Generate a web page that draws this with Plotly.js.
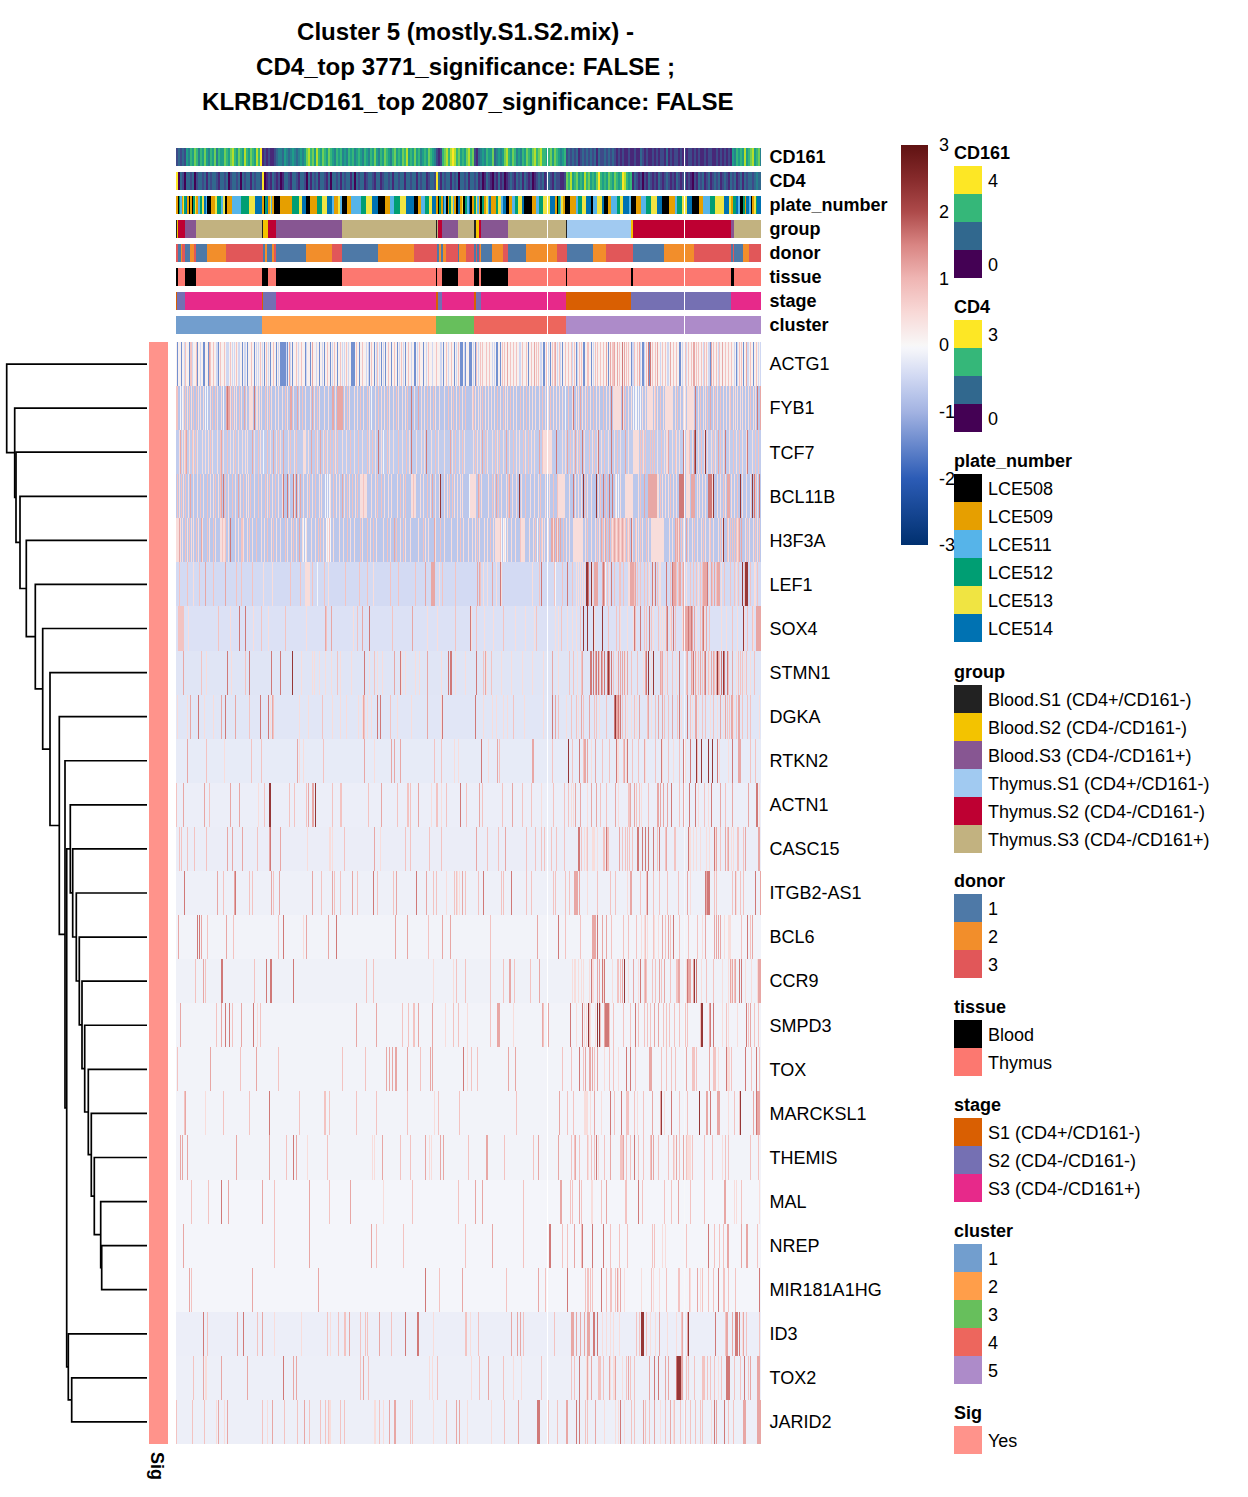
<!DOCTYPE html>
<html><head><meta charset="utf-8">
<script src="https://cdn.plot.ly/plotly-3.0.1.min.js"></script>
<style>html,body{margin:0;padding:0;background:#fff}</style></head><body><div id="chart" style="width:1248px;height:1497px"></div>
<script>
const W=1248,H=1497,FONT='"Liberation Sans", Arial, sans-serif';
const titleLines=['Cluster 5 (mostly.S1.S2.mix) -','CD4_top 3771_significance: FALSE ;','KLRB1/CD161_top 20807_significance: FALSE'];
const genes=['ACTG1','FYB1','TCF7','BCL11B','H3F3A','LEF1','SOX4','STMN1','DGKA','RTKN2','ACTN1','CASC15','ITGB2-AS1','BCL6','CCR9','SMPD3','TOX','MARCKSL1','THEMIS','MAL','NREP','MIR181A1HG','ID3','TOX2','JARID2'];
const geneBase=[0.12,-0.75,-0.65,-0.72,-0.72,-0.45,-0.35,-0.3,-0.29,-0.22,-0.17,-0.18,-0.14,-0.1,-0.13,-0.1,-0.1,-0.1,-0.1,-0.07,-0.07,-0.07,-0.17,-0.16,-0.16];
const nCols=585;
// z value of each listed stripe group
const levels=[0.42,0.8,1.15,1.6,2.3,-0.03,-1.4,-0.5];
// stripes per gene: [light, mid, strong, dark, darkest, white, blue, lavender], column numbers
const ACTG1=[[],[9,14,15,20,34,37,44,48,54,60,75,84,90,97,120,125,151,158,164,170,180,186,195,201,212,218,225,232,243,252,260,270,275,282,300,304,306,310,313,326,328,334,337,340,346,350,355,360,362,370,376,378,383,389,392,395,398,403,405,411,412,419,421,424,427,436,437,443,450,452,458,461,470,476,479,486,489,497,500,509,512,515,520,522,525,528,530,537,540,543,549,552,555,563,565,574,580],[33,113,136,331,358,379,430,434,438,441,448,463,481,494,508,517,518,535,546,570],[446,472,473,474],[],[],[1,5,13,21,27,28,32,42,66,71,78,88,94,100,104,105,106,107,108,109,111,116,129,134,143,148,154,161,175,176,177,178,183,193,198,205,209,215,221,229,238,239,247,267,278,284,285,286,289,293,294,295,299,320,321,324,352,367,368,374,386,400,407,408,415,432,455,466,467,473,503,504,534,560,567,577],[8,16,24,40,41,50,51,52,56,58,62,63,68,69,80,82,86,92,102,110,114,122,130,140,146,156,166,168,172,190,192,200,203,207,223,227,235,241,250,256,264,265,272,280,288,297,302,316,318,343,344,364,365,372,381,384,396,401,417,456,457,464,468,484,491,492,506,510,527,532,533,542,558,561,571,572,582,584]];
const FYB1=[[7,11,15,22,24,27,34,41,45,54,58,60,65,70,73,74,75,76,80,81,83,85,91,95,99,102,106,111,117,123,129,134,138,143,148,152,159,168,173,178,181,187,193,199,205,208,213,217,222,226,229,238,245,248,254,259,263,268,275,280,286,296,299,302,304,309,312,315,318,324,329,331,337,340,347,353,356,359,363,369,372,377,380,383,386,396,400,402,406,409,414,420,423,430,433,437,438,439,440,441,442,443,444,447,452,455,466,469,471,472,473,474,475,476,478,481,487,489,490,491,492,493,494,495,496,499,504,507,509,511,512,513,514,515,516,517,522,527,529,537,541,547,550,553,557,559,561,564,566,569,572,577,579],[0,1,9,13,17,20,36,39,56,63,89,93,109,126,141,171,184,191,202,211,220,231,242,251,257,272,277,283,289,297,306,321,327,334,344,350,366,374,392,404,411,417,427,449,479,484,501,524,531,539,544,554,574],[50,52,53,68,114,115,121,136,156,157,161,162,163,164,165,166,235,242,404,534,584],[51,78,235,397,435,446,519,581],[],[4,6,29,31,47,195,457,459,460,462,464,389]];
const TCF7=[[3,6,8,13,17,21,26,29,32,36,41,47,54,57,62,66,69,71,78,84,87,94,100,104,112,118,127,128,129,132,141,147,151,159,166,170,178,186,193,199,205,213,217,226,233,240,245,248,255,262,268,276,283,288,297,301,304,311,316,321,327,333,340,343,349,355,358,367,368,369,370,372,373,374,375,386,389,397,401,408,416,421,425,432,438,444,452,457,458,459,460,461,462,467,474,481,488,490,491,492,496,499,500,503,510,511,512,516,522,528,531,535,539,547,553,560,566,570,576,585],[9,16,19,34,44,51,59,82,91,102,114,120,139,144,149,154,157,161,174,182,191,196,202,211,222,230,259,279,286,299,306,309,319,323,337,347,352,366,394,403,413,418,428,441,449,464,466,469,474,476,478,485,499,513,525,537,544,557,563,579,582],[4,10,45,76,97,107,135,144,274,306,330,363,391,399,449,492,542],[202,235,250,380,406,422,435,507,518,549,571],[519,529],[207,87]];
const BCL11B=[[3,7,12,17,21,27,34,37,42,52,59,64,70,72,78,85,91,96,102,106,113,118,122,127,131,136,143,145,154,160,163,168,173,179,184,185,186,187,188,189,190,195,199,208,212,215,221,227,235,236,237,238,239,244,247,254,259,263,268,271,278,281,284,286,294,295,296,297,298,299,305,312,318,325,330,336,340,345,354,358,362,369,373,381,382,383,384,385,386,387,388,393,399,402,405,411,415,422,439,444,449,450,451,452,453,454,455,456,462,477,478,479,480,481,482,486,489,492,497,500,510,511,512,513,521,523,526,529,536,541,544,549,555,558,561,566,570,574,581],[1,5,9,24,31,39,44,49,56,67,74,82,89,93,99,133,139,149,157,171,176,181,187,201,205,224,229,237,251,273,276,303,316,322,332,349,364,377,381,409,424,430,464,484,494,504,508,547,561,579],[14,45,62,124,166,256,302,320,333,468,472,473,474,475,476,477,478,479,480,515,516,517,518,551,552,553],[47,107,111,117,120,397,427,433,436,503,504,505,506,507,532,533,534,535,578,583],[264,343,407,420,537,564,576],[149,151,153,440,442,293]];
const H3F3A=[[0,1,2,3,4,6,11,15,17,22,26,33,39,44,45,46,47,48,49,52,59,62,67,71,76,85,88,95,100,104,111,115,120,126,130,135,139,147,151,157,163,167,174,178,186,194,200,207,214,224,229,234,242,249,252,259,268,275,281,287,292,296,299,303,308,311,317,319,320,321,322,323,328,331,335,339,344,345,346,347,348,353,357,366,368,372,377,381,390,393,397,398,399,400,401,402,403,404,405,406,409,415,419,423,428,433,436,440,444,448,452,456,460,462,466,472,475,476,477,478,479,480,481,482,483,484,485,486,487,493,496,502,507,512,516,521,525,529,533,537,542,546,552,558,561,565,569,573,577,581],[9,13,20,31,37,46,49,65,66,73,80,91,97,109,117,142,144,153,171,184,191,197,211,220,227,247,264,284,301,314,324,344,359,361,363,365,387,411,421,426,431,435,437,439,441,443,445,447,449,451,453,455,459,464,470,500,505,518,527,534,544,551,554,556,558,560,562,571,579,583],[3,25,123,218,258,376,375,378,380,382,384,425,429,433,438,442,446,499,501,503,510,563,565],[54,455],[547],[127,129,150,152,154,325,327,329,361]];
const LEF1=[[17,87,96,129,130,131,132,133,152,197,263,307,311,320,325,356,400,402,404,406,408,415,416,418,420,433,452,453,454,455,456,473,477,483,484,510,522,533,545,560,578,579],[3,11,23,37,49,60,65,76,114,124,136,148,169,183,191,214,222,239,266,279,304,316,324,363,378,386,391,396,429,431,438,443,444,447,458,461,464,468,471,479,481,494,500,502,506,514,517,520,524,526,536,540,548,554,558,562,568,574,581],[29,49,249,255,256,257,258,301,303,316,411,418,419,420,421,426,428,454,455,456,457,459,497,498,499,503,504,507,527,528,529,530,535,538,541,542,543,566],[324,365,391,412,427,435,476,479,490,496,531],[410,411,415,569,570,571,566],[141,379,429]];
const SOX4=[[12,54,63,69,77,92,109,130,177,186,236,251,261,295,300,308,317,339,349,358,379,382,391,396,400,407,418,426,444,451,457,464,477,484,486,488,494,506,510,520,528,545,550,561,568,577],[2,3,4,5,6,7,42,85,109,149,150,181,216,279,300,327,360,385,404,417,432,440,443,459,468,470,475,482,491,495,499,516,524,533,556,571,576],[149,155,186,193,236,490,507,508,509,510,511,512,513,514,516,518,526,527,530,580,581,582,583,584],[63,69,193,294,458,464,473,491,497,512,515,527],[407,411,417,426,567],[]];
const STMN1=[[30,55,125,136,138,143,149,155,164,175,193,201,206,225,229,239,243,265,272,279,289,300,310,325,335,346,356,367,376,382,401,414,426,440,449,467,475,489,500,520,533,556,560,568,574],[25,69,161,198,307,315,393,397,405,423,428,431,437,455,461,485,491,496,503,510,516,522,526,532,538,543,552,562,564,566,570,578],[7,218,251,309,376,406,419,426,442,444,446,448,451,469,477,484,486,511,515,519,524,528,535,537,540,542,556],[51,73,95,104,188,224,272,274,275,300,414,415,417,420,422,425,428,431,433,435,470,503,517,529,545,548,551],[116,432,472,477,541,547],[]];
const DGKA=[[1,11,22,28,37,45,59,84,92,94,97,123,132,146,156,164,170,182,186,191,195,201,204,221,235,251,265,299,307,316,320,327,331,337,348,367,376,390,395,402,405,413,423,438,451,455,460,475,482,505,511,516,522,534,541,547,557,583],[14,49,73,97,146,188,214,266,337,382,395,400,407,418,420,430,443,446,449,458,471,479,488,492,501,508,514,526,529,537,551,553,560,566,571,574],[14,45,59,96,187,251,379,405,413,440,441,463,472,482,486,496,519,520,544,549,555,556,562,563],[22,49,84,92,201,204,266,299,376,438,442,444,503,511],[439],[]];
const RTKN2=[[48,123,127,198,282,312,278,415,419,441,442,450,469,486,497,509,525,532,536,543,552],[30,75,85,147,258,265,305,323,376,392,396,407,426,433,447,456,462,479,492,503,521,574,579],[11,121,188,215,218,224,321,356,357,408,409,411,419,448,468,562,563,564],[305,403,440,451,485,507,514,532,525,541,556],[392,520,525,532,536],[]];
const ACTN1=[[82,255,265,395,397,411,365,442,465,522,532,583],[0,33,88,113,118,130,156,164,165,192,221,231,232,234,260,261,270,290,306,326,346,355,377,388,392,424,430,452,453,460,463,472,503,528,535,549],[7,28,54,63,132,136,137,205,242,303,336,399,404,415,420,439,454,458,481,482,484,487,491,507,544,556,572],[284,495,513,519,535,580,581],[93,94,139],[]];
const CASC15=[[131,153,154,156,198,204,408,410,416,417,418,421,513,514,517,520,524,530,533,538,539,555,557],[3,5,11,18,30,81,168,229,234,253,265,311,322,350,359,365,368,375,380,388,402,403,405,411,427,428,430,431,432,443,446,449,451,453,456,477,481,489,498,499,544,551,552,561,562,567],[51,56,66,93,104,198,300,329,443,472,490,540,549,552,569,582,583],[94,402,403,430,461,462,466,469,472,477,483,512,538],[],[]];
const ITGB2=[[270,281,411,283,451,514,529,560],[47,73,76,97,145,158,164,181,201,217,257,260,278,280,289,302,325,327,350,355,377,379,389,393,421,434,439,464,470,477,483,491,502,538,540,556,564,567],[41,58,95,103,136,156,176,197,220,250,286,398,399,400,401,403,454,455,511,530,559,584],[8,59,197,240,307,335,471,529,531,532,533,579],[],[]];
const BCL6=[[127,548,552,554,553,465,468,471,478,482,526],[31,57,102,152,252,274,314,389,404,435,447,452,460,469,477,489,494,503,512,521,538,565,574,576],[2,25,50,130,152,219,231,266,274,361,416,417,418,419,426,430,486,492,529,538,540,542,544,576],[21,23,107,160,382,421,497,508,571],[],[]];
const CCR9=[[257,277,396,398,399,402,405,407,413,416,417,426,427,436,452,462,469,510,511,518,525,546,552,555,569,575,581],[19,29,78,190,197,280,289,314,327,338,354,441,442,444,468,470,476,479,485,494,500,501,530,537,558],[27,333,334,363,421,423,446,457,469,483,488,502,503,512,513,514,517,554,556,559,582,583,584],[45,46,90,94,95,117,415,426,428,464,511,520,563,565],[518,448],[]];
const SMPD3=[[81,269,291,337,400,408,410,414,419,423,424,546,552,561],[40,56,84,226,232,237,238,277,282,314,367,394,406,413,424,433,437,447,454,459,462,468,471,474,487,490,493,498,503,509,511,524,525,526,550,572,578,582],[4,45,65,180,200,242,256,321,322,323,366,372,428,478,482,533,574],[49,53,77,394,406,429,430,431,432,459,534,537,570],[412,421,423,525,526],[]];
const TOX=[[291,428,442,542,550,551,552,553],[1,64,102,166,189,244,295,301,386,395,403,407,418,433,437,459,485,490,495,499,516,517,518,520,533,537,538,539,555,569,575,583],[34,80,210,213,216,219,220,231,254,256,332,339,409,413,414,416,421,473,474,475,510,533],[403,569,580,287,450,454,550],[],[]];
const MARCKSL1=[[29,258,408,409,410,411,414,425,461,488,552],[8,47,73,123,148,149,153,180,200,231,262,283,340,391,397,438,445,450,451,452,458,467,503,511,558,563],[9,383,418,484,476,530,531,541,542,543,577,581,582,583],[93,434,445,495,534,580],[485,523,564],[]];
const THEMIS=[[131,196,198,253,255,546,412,498,403,415,422,511,512,513,514,516],[110,151,224,234,292,328,357,395,398,403,411,415,418,428,444,445,446,450,454,462,467,474,482,492,497,503,510,516,528,536,549,552,574,582],[4,6,11,60,93,120,206,249,264,267,310,311,362,382,399,434,447,475,477,500,507,508],[117,420,458],[],[]];
const MAL=[[207,403,415,416,430,560,558,583],[15,32,98,153,236,282,347,394,396,405,425,449,450,466,488,495,514,528,565],[52,86,133,174,299,306,384,385,403,430,502,548,549],[45,462],[],[]];
const NREP=[[427,486,489],[98,200,227,289,347,386,391,405,416,434,443,451,476,478,510,532,538,543,547,581],[7,133,195,316,398,551,552,565,570,571],[373,374,406,427,416,532],[],[]];
const MIR181=[[442,444,448,465,477,483,514,524],[15,263,330,369,409,411,412,414,416,425,430,434,435,439,441,475,490,502,503,513,526,532,537,547,548,552,559],[13,76,142,286,362,441,444,521,542],[249,391,425,542,583],[],[]];
const ID3=[[98,125,154,257,294,302,426,430,434,437,443,417,418,470,474,479,491,500,566],[31,81,151,162,168,169,184,189,191,215,289,290,302,347,378,460,463,470,505,539,549,570,583],[61,86,173,203,335,341,344,395,396,397,400,404,408,411,412,413,483,506,511,512,550,551,556,567],[27,67,229,241,242,417,418,421,539,559,560,561,563],[465,466,467,512],[]];
const TOX2=[[29,253,256,30,295,337,345,410,411,412,434,437,438,439,446,542],[17,27,45,184,192,261,303,312,327,365,395,398,403,415,422,423,424,427,450,454,458,473,478,510,512,518,526,527,528,531,534,538,545,550,558,564,572],[27,45,71,117,120,187,312,411,415,433,439,452,473,482,489,492,504,505,506,574,581,582,583],[107,403,478,482,500,501,502,503,550,551,552,553,568],[501,502,503,504],[]];
const JARID2=[[40,48,91,121,153,152,154,164,168,198,199,207,218,257,291,315,428,439,442,448,484,497,494,535],[0,16,28,86,108,121,133,144,149,152,164,168,203,234,236,270,328,372,381,403,409,411,455,458,467,469,473,489,498,504,509,514,519,524,526,548,552,557],[42,51,96,128,213,218,219,280,283,342,390,391,419,467,478,494,538,540,567,568,569,581,582,583,584],[361,362,363,403,400,444,548,538],[],[]];
const geneStripes=[ACTG1,FYB1,TCF7,BCL11B,H3F3A,LEF1,SOX4,STMN1,DGKA,RTKN2,ACTN1,CASC15,ITGB2,BCL6,CCR9,SMPD3,TOX,MARCKSL1,THEMIS,MAL,NREP,MIR181,ID3,TOX2,JARID2];
const whiteCol=371, paleCol=508;
// annotation strips: value then run length in columns
const clusterVals=[0,1,2,3,4], clusterLens=[86,174,38,92,195];
const stageVals=[0,1,2,0,1,2,0,1,2,0,1,2,0,1,2], stageLens=[1,8,77,1,13,160,2,4,32,2,5,85,65,100,30];
const tissueVals=[0,1,0,1,0,1,0,1,0,1,0,1,0,1,0,1,0,1,0,1,0,1], tissueLens=[2,7,11,66,6,8,66,94,1,5,16,16,5,2,27,58,1,64,2,98,3,27];
const groupVals=[0,1,4,2,5,0,1,4,2,5,0,5,4,2,5,0,1,4,2,5,0,3,1,4,2,5], groupLens=[1,1,7,11,66,1,5,8,66,94,1,1,4,16,16,2,3,2,27,58,1,64,2,98,3,27];
const donorVals=[2,0,1,2,0,1,2,0,1,2,0,1,0,1,2,0,1,2,0,1,2,0,1,0,1,2,0,1,2,0,2,0,2,1,0,1,2,0,1,2,0,1,2,0,1,2,0,2,0,1,2],donorLens=[2,3,1,3,5,4,2,11,19,37,2,2,5,2,2,30,26,10,36,36,23,2,2,2,3,12,1,7,8,2,1,2,1,1,11,11,5,18,31,10,26,13,27,31,30,37,2,1,9,6,12];
const plateVals=[1,0,3,2,1,4,3,5,1,0,1,0,3,4,1,2,3,4,5,2, 0,1,4,3,2,4,0,1,2,3,4,5, 1,0,3,5,1,4,2,1,0, 0,1,3,4,5,0,1,3,4,5,2,1,4,2, 0,1,2,3,4,5, 0,1,2,3,4,5, 0,1,2,3,4,5, 1,0,3,1,5,2,0,1,3,4,2,1,0,5,1,4,0,3,2,5,0,1,3,4,2,1, 0,3,1,4,2,5,1,3,4,2,5, 0,1,2,3,4,5, 0,1,2,3,4,5, 1,0,3,2,4,1, 0,1,2,3,4,5, 0,2,4,5, 0,1,2,3,4,5,2, 0,1,2,3,4,5, 0,1,2,3,4,5, 0,1,2,3,4,5, 4,1,3,5,2,0,3,1,5,2,0,1,4,3,5];
const plateLens=[2,1,1,2,1,1,2,1,2,1,2,1,2,1,2,2,2,2,2,1, 4,4,2,4,2,2,2,5,9,8,6,7, 2,1,2,1,2,1,1,2,2, 4,12,7,3,4,4,7,5,5,5,2,4,2,2, 5,4,10,5,6,6, 7,5,4,6,6,8, 4,3,4,4,3,4, 2,1,2,2,1,2,2,1,2,2,1,2,2,2,2,1,2,2,2,1,2,2,2,1,2,1, 2,2,2,2,1,2,5,2,3,2,3, 3,3,3,3,4,2, 8,4,3,4,7,5, 2,1,2,1,2,2, 5,6,2,4,4,5, 2,4,5,2, 4,3,6,3,3,6,2, 5,5,5,5,6,5, 7,6,2,5,5,5, 7,4,7,5,9,5, 2,2,3,2,2,3,2,1,3,2,1,2,2,1,2];
// CD161 and CD4 expression, one value every two columns, on a 0-9 shade scale
const cd161=[2,3,2,3,2, 5,4,6,5,7,6,4,6,5,7,5,4,6,5,7,4,6,5,5,7,6,5,7,8,6,5,7,6,5,8,6,5,7,6,5,8,6,9, 1,2,1,2,1,1,2, 3,4,4,3,5,4,3,4,5,4,3,4,5,4,5,7,8,6,7,5,8,6,5,7,6,5,7,6,5,4,6,5,6,4,5,4,6,5,6,4,5,6,5,4,6,5,4,6,5,7,5,4,6,5,7,6,5,4,6,7,5,6,5,7,6,8,5,6,5,7,5,6,4,5,6,5,7,6,5,4, 2,1,2, 6,7,8,6,8,9,8,6,7,5,6,5,7,8,6,7, 2,1,3, 4,5,4,6,5,5,7,3,4,5,4,5,7,8,6,5,7,6,4,5,4,6,5,7,6,5,7,8,6,7,8,6,6,5,6,7,5,7,6,5,4,5,6, 2,3,2,3,2,3,1,2,3,2,3,2,3,2,3,1,3,2,2,3,2,3,2,3,2,1,2,1,2,1,1,2,1,1,2,1,1,3,2,1,2,1,1,2,1,2,1,2,2,1,3,1,2,1,2,2,1,2,1,2,1,2,2,1,2,1,2,1,1,2,1,2,2,1,1,2,1,2,1,2,1,2,1, 5,4,6,5,6,5,8,5,6,7,8,5,6,7,4];
const cd4=[9,0,3,2,0,3,3,2,3,0,2,3,3,2,3,1,3,2,3,3,2,1,3,3,2,3,0,2,3,3,2,3,0,3,2,3,3,1,3,2,3,3,2, 9, 0,1,2,1,3,2, 1,2,0,1,3,3,2,1,3,3,2,1,3,3,2,0,3,1,3,2,3,1,3,3,2,1,3,0,3,3,2,3,1,3,2,3,3,1,3,0,3,2,3,3,1,2,3,3,2,1,3,3,1,2,3,3,2,3,1,3,3,2,3,3,1,3,3,2,3,3,1,3,2,3,3,1,2,3,3,2, 9, 3,1,3,2,3,3,1,3,2,3,0,3,3,2,3,1,3,3,2,3,1,2,0,1,3,2,1,0,2,1,3,1,2,0,1,2,3,2,1,3,2,3,1,3,2,1,2,0,1,2,3,2,3,1,2,3,2,1,3,2,2,1,1,2, 7,6,8,5,6,7,5,6,5,8,6,7,5,6,5,7,9,6,5,6,5,7,6,5,7,6,5,6,9,8,6,5,6, 1,3,2,1,2,0,2,1,3,2,1,2,1,3,2,1,2,3,2,1,2,1,3,2,1,2,3,1,2,1,0,2,1,3,2,3,1,2,3,1,2,3,2,3,1,2,3,2,1,3,2,3,1,2,3,1,3,2,3,3,2,3,4,3,3];
const viridis=['#440154','#482878','#3e4a89','#31688e','#26828e','#1f9e89','#35b779','#6ece58','#b5de2b','#fde725'];
// legends
const plateNames=['LCE508','LCE509','LCE511','LCE512','LCE513','LCE514'], plateColors=['#000000','#E69F00','#56B4E9','#009E73','#F0E442','#0072B2'];
const groupNames=['Blood.S1 (CD4+/CD161-)','Blood.S2 (CD4-/CD161-)','Blood.S3 (CD4-/CD161+)','Thymus.S1 (CD4+/CD161-)','Thymus.S2 (CD4-/CD161-)','Thymus.S3 (CD4-/CD161+)'], groupColors=['#222222','#F3C300','#875692','#A1CAF1','#BE0032','#C2B280'];
const donorNames=['1','2','3'], donorColors=['#4E79A7','#F28E2B','#E15759'];
const tissueNames=['Blood','Thymus'], tissueColors=['#000000','#FC7870'];
const stageNames=['S1 (CD4+/CD161-)','S2 (CD4-/CD161-)','S3 (CD4-/CD161+)'], stageColors=['#D95F02','#7570B3','#E7298A'];
const clusterNames=['1','2','3','4','5'], clusterColors=['#729ECE','#FF9E4A','#67BF5C','#ED665D','#AD8BC9'];
const sigColor='#FF938B';
const exprColors=['#FDE725','#35B779','#31688E','#440154'];
// dendrogram: leaf gene or earlier merge (m#), with the height of each merge
const mergeA=['NREP','MAL','THEMIS','MARCKSL1','TOX','SMPD3','CCR9','BCL6','ITGB2-AS1','CASC15','ACTN1','TOX2','ID3','m10','RTKN2','DGKA','STMN1','SOX4','LEF1','H3F3A','BCL11B','TCF7','FYB1','ACTG1'];
const mergeB=['MIR181A1HG','m0','m1','m2','m3','m4','m5','m6','m7','m8','m9','JARID2','m11','m12','m13','m14','m15','m16','m17','m18','m19','m20','m21','m22'];
const mergeH=[45.3,46.3,52.7,55.7,58.7,62.3,65,67.7,70.7,74.3,76.7,75.3,78.7,80.3,82,87.7,97,104.3,111.7,120.7,127,131,132.3,140.3];
const heatStops=[[-3,'#00306f'],[-2,'#2c5cb6'],[-1,'#a3b3e2'],[-0.75,'#b8c5ea'],[-0.45,'#d3daf3'],[-0.2,'#e9ecf7'],[-0.1,'#f2f3f9'],[-0.05,'#f5f6fb'],[0,'#f8f7f7'],[0.5,'#f8d8d6'],[1,'#efb5b3'],[1.5,'#d98583'],[2,'#ad4a4a'],[2.5,'#862a2b'],[3,'#5f1212']];
const heatScale=heatStops.map(s=>[(s[0]+3)/6,s[1]]);

function rle(v,l){const o=[];v.forEach((c,i)=>{for(let k=0;k<l[i];k++)o.push(c)});return fit(o)}
function fit(o){const a=o.slice(0,nCols);while(a.length<nCols)a.push(a[a.length-1]);a[whiteCol]=null;a[paleCol]=null;return a}
function twice(v){const o=[];v.forEach(c=>{o.push(c,c)});return fit(o)}
function steps(c){const s=[];c.forEach((col,i)=>{s.push([i/c.length,col],[(i+1)/c.length,col])});return s}
const cols=Array.from({length:nCols},(_,i)=>i);
const z=genes.map((g,r)=>{const a=new Array(nCols).fill(geneBase[r]);
  geneStripes[r].forEach((list,l)=>list.forEach(c=>{a[c]=levels[l]}));
  a[whiteCol]=null;a[paleCol]=Math.max(-0.05,geneBase[r]*0.3);return a});

const TXT='#000';
const px=(a,b)=>[a/W,b/W], py=(t,b)=>[1-b/H,1-t/H];
const traces=[{type:'heatmap',x:cols,y:genes.map((_,i)=>i),z:z,colorscale:heatScale,zmin:-3,zmax:3,xaxis:'x',yaxis:'y',hoverinfo:'skip',
 colorbar:{x:901/W,xanchor:'left',xpad:0,ypad:0,y:1-345/H,yanchor:'middle',lenmode:'pixels',len:400,thicknessmode:'pixels',thickness:27,outlinewidth:0,borderwidth:0,tickvals:[-3,-2,-1,0,1,2,3],ticktext:['-3','-2','-1','0','1','2','3'],ticks:'outside',ticklen:8,tickcolor:'rgba(0,0,0,0)',tickfont:{family:FONT,size:18,color:TXT}}}];
const strips=[['CD161',twice(cd161),viridis,148],['CD4',twice(cd4),viridis,172],['plate_number',rle(plateVals,plateLens),plateColors,196],['group',rle(groupVals,groupLens),groupColors,220],['donor',rle(donorVals,donorLens),donorColors,244],['tissue',rle(tissueVals,tissueLens),tissueColors,268],['stage',rle(stageVals,stageLens),stageColors,292],['cluster',rle(clusterVals,clusterLens),clusterColors,316]];
const layout={width:W,height:H,margin:{l:0,r:0,t:0,b:0},paper_bgcolor:'#fff',plot_bgcolor:'#fff',showlegend:false,font:{family:FONT,color:TXT},
 xaxis:{domain:px(176,761),range:[-0.5,nCols-0.5],visible:false,fixedrange:true},
 yaxis:{domain:py(342,1444),range:[24.5,-0.5],anchor:'x',side:'right',tickvals:genes.map((_,i)=>i),ticktext:genes,ticks:'outside',ticklen:4,tickcolor:'rgba(0,0,0,0)',tickfont:{family:FONT,size:18,color:TXT},showgrid:false,zeroline:false,showline:false},
 xaxis2:{domain:px(0,147),range:[147,0],visible:false,anchor:'y'},
 xaxis3:{domain:px(149,168),range:[-0.5,0.5],visible:false,anchor:'y'},
 annotations:[],shapes:[]};
strips.forEach((s,i)=>{const n=i+2,key='yaxis'+n;
 layout[key]={domain:py(s[3],s[3]+18),range:[-0.5,0.5],anchor:'x',side:'right',tickvals:[0],ticktext:['<b>'+s[0]+'</b>'],ticks:'outside',ticklen:4,tickcolor:'rgba(0,0,0,0)',tickfont:{family:FONT,size:18,color:TXT},showgrid:false,zeroline:false,showline:false};
 const cs=steps(s[2]);
 traces.push({type:'heatmap',x:cols,y:[0],z:[s[1]],colorscale:cs,zmin:-0.5,zmax:s[2].length-0.5,showscale:false,xaxis:'x',yaxis:'y'+n,hoverinfo:'skip'});
});
traces.push({type:'heatmap',x:[0],y:genes.map((_,i)=>i),z:genes.map(()=>[1]),colorscale:[[0,sigColor],[1,sigColor]],showscale:false,xaxis:'x3',yaxis:'y',hoverinfo:'skip'});
// dendrogram
const nodeY={},nodeH={};genes.forEach((g,i)=>{nodeY[g]=i;nodeH[g]=0});
const dx=[],dy=[];
mergeA.forEach((a,i)=>{const b=mergeB[i],h=mergeH[i];
 dx.push(nodeH[a],h,h,nodeH[b],null);dy.push(nodeY[a],nodeY[a],nodeY[b],nodeY[b],null);
 nodeY['m'+i]=(nodeY[a]+nodeY[b])/2;nodeH['m'+i]=h;});
traces.push({type:'scatter',mode:'lines',x:dx,y:dy,xaxis:'x2',yaxis:'y',line:{color:'#000',width:1.7},hoverinfo:'skip',cliponaxis:false});
// text helpers
function txt(t,x,y,o={}){layout.annotations.push(Object.assign({text:t,xref:'paper',yref:'paper',x:x/W,y:1-y/H,xanchor:'left',yanchor:'middle',showarrow:false,font:{family:FONT,size:18,color:TXT}},o))}
const titleCentres=[465,465,468];
titleLines.forEach((t,i)=>txt('<b>'+t+'</b>',titleCentres[i],32+i*35,{xanchor:'center',font:{family:FONT,size:24.1,color:TXT}}));
txt('<b>Sig</b>',157,1466,{xanchor:'center',textangle:90,font:{family:FONT,size:18,color:TXT}});
function legend(title,titleY,colors,labels,labelSlots){
 txt('<b>'+title+'</b>',952,titleY+1);
 const top=titleY+14;
 colors.forEach((c,i)=>{layout.shapes.push({type:'rect',xref:'paper',yref:'paper',x0:954/W,x1:982/W,y0:1-(top+28*i)/H,y1:1-(top+28*(i+1))/H,fillcolor:c,line:{width:0},layer:'above'});});
 labels.forEach((l,i)=>{const s=labelSlots?labelSlots[i]:i;txt(l,986,top+28*s+15)});
}
legend('CD161',152,exprColors,['4','0'],[0,3]);
legend('CD4',306,exprColors,['3','0'],[0,3]);
legend('plate_number',460,plateColors,plateNames);
legend('group',671,groupColors,groupNames);
legend('donor',880,donorColors,donorNames);
legend('tissue',1006,tissueColors,tissueNames);
legend('stage',1104,stageColors,stageNames);
legend('cluster',1230,clusterColors,clusterNames);
legend('Sig',1412,[sigColor],['Yes']);
Plotly.newPlot('chart',traces,layout,{displayModeBar:false,staticPlot:true});
</script></body></html>
